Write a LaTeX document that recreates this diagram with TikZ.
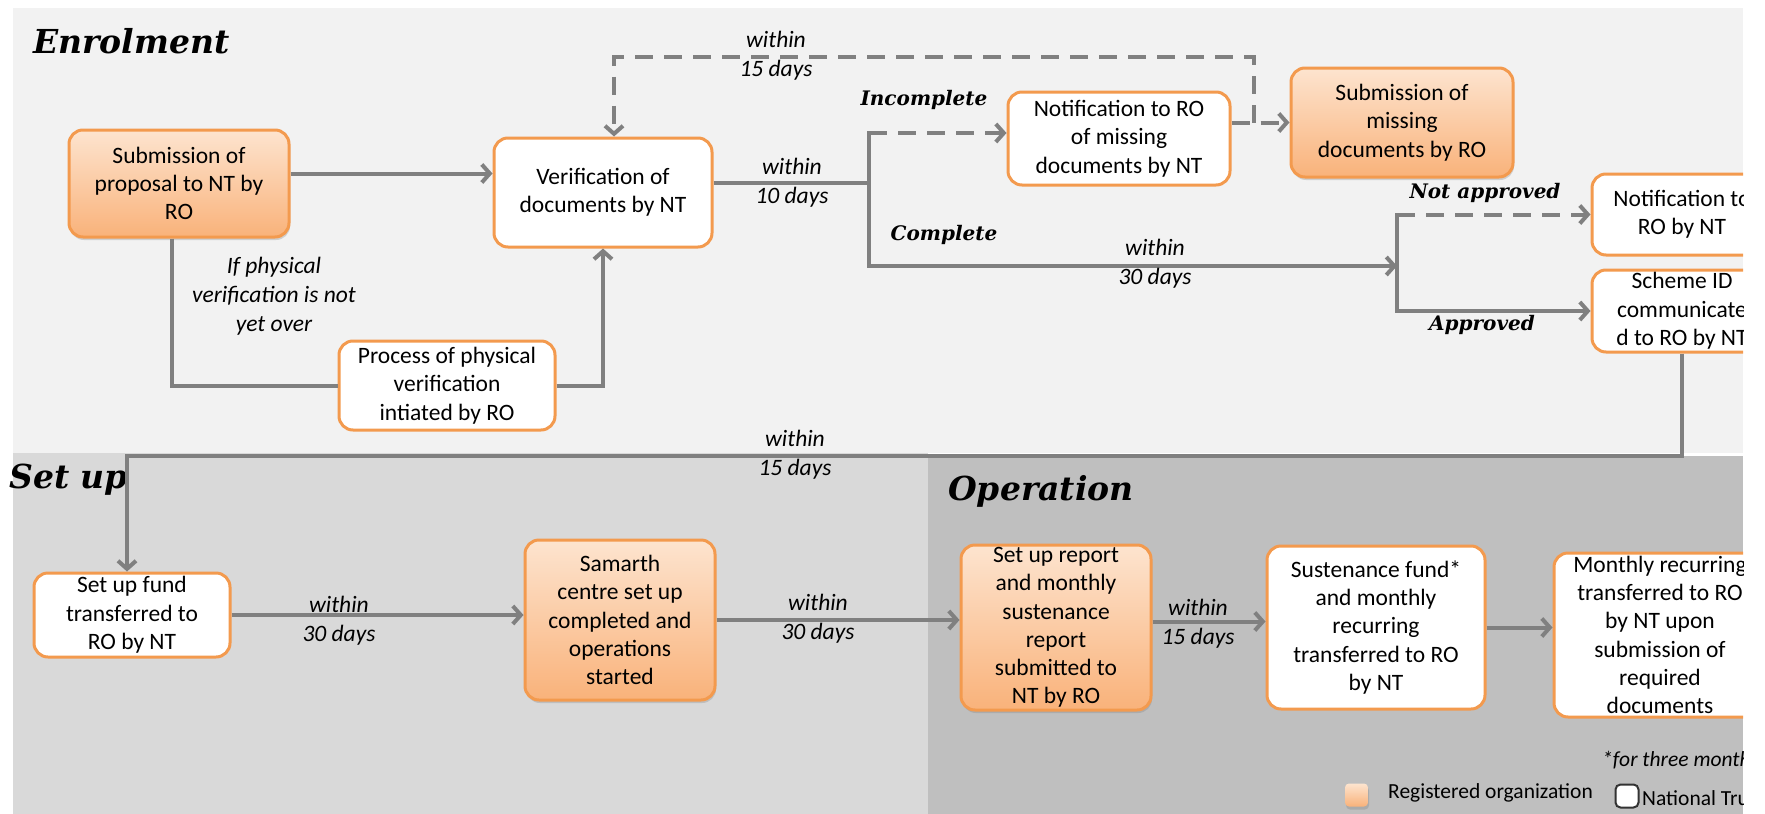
\documentclass[tikz,border=0pt]{standalone}
\usepackage{fontspec}
\setmainfont{Carlito}
\newfontfamily\headfont{DejaVu Serif}
\usetikzlibrary{arrows.meta,shadows,positioning}

\definecolor{panelA}{HTML}{F2F2F2}
\definecolor{panelB}{HTML}{D9D9D9}
\definecolor{panelC}{HTML}{BFBFBF}
\definecolor{flowgrey}{HTML}{808080}
\definecolor{boxline}{HTML}{F39A4E}
\definecolor{rotop}{HTML}{FDE4CF}
\definecolor{robot}{HTML}{F9B27A}

\tikzset{
  >={Straight Barb[length=8pt,width=18pt]},
  stage/.style={draw=boxline, line width=3pt, rounded corners=14pt, align=center,
    inner sep=0pt, font=\fontsize{23.5}{28.3}\selectfont},
  robox/.style={stage, top color=rotop, bottom color=robot,
    drop shadow={shadow xshift=1pt, shadow yshift=-3pt, opacity=0.3}},
  ntbox/.style={stage, fill=white},
  flow/.style={draw=flowgrey, line width=4pt},
  gap/.style={flow, dash pattern=on 18pt off 11pt},
  days/.style={font=\fontsize{23.5}{29}\selectfont\itshape, align=center, inner sep=0pt},
  phase/.style={font=\headfont\bfseries\itshape\fontsize{33}{40}\selectfont,
    anchor=base west, inner sep=0pt},
  branch/.style={font=\headfont\bfseries\itshape\fontsize{20}{24}\selectfont, inner sep=0pt},
  keytext/.style={font=\fontsize{21.5}{24}\selectfont, anchor=west, inner sep=0pt},
}

\begin{document}
\begin{tikzpicture}[x=1pt,y=-1pt]

  \useasboundingbox (0,0) rectangle (1765,814);
  \clip (0,0) rectangle (1743,814);

  %% panels
  \fill[panelA] (13,8) rectangle (1743,453);
  \fill[panelB] (13,453) rectangle (928,814);
  \fill[panelC] (928,456) rectangle (1743,814);

  \node[phase] (enrol) at (33,53) {Enrolment};
  \node[phase] (setup) at (9,488) {Set up};
  \node[phase] (oper) at (948,500) {Operation};

  %% enrolment stages
  \node[robox, minimum width=220pt, minimum height=107pt] (subm) at (179,183.5)
    {Submission of\\proposal to NT by\\RO};
  \node[ntbox, minimum width=218pt, minimum height=109pt] (verif) at (603,192.5)
    {Verification of\\documents by NT};
  \node[ntbox, minimum width=216pt, minimum height=89pt] (proc) at (447,385.5)
    {Process of physical\\verification\\intiated by RO};
  \node[ntbox, minimum width=222pt, minimum height=93pt] (notif) at (1119,138.5)
    {Notification to RO\\of missing\\documents by NT};
  \node[robox, minimum width=222pt, minimum height=109pt] (missing) at (1402,122.5)
    {Submission of\\missing\\documents by RO};
  \node[ntbox, minimum width=180pt, minimum height=81pt] (notifB) at (1682,214.5)
    {Notification to\\RO by NT};
  \node[ntbox, minimum width=180pt, minimum height=82pt] (scheme) at (1682,311)
    {Scheme ID\\communicate\\d to RO by NT};

  %% set up and operation stages
  \node[ntbox, minimum width=196pt, minimum height=84pt] (fund) at (132,615)
    {Set up fund\\transferred to\\RO by NT};
  \node[robox, minimum width=190pt, minimum height=160pt] (samarth) at (620,620)
    {Samarth\\centre set up\\completed and\\operations\\started};
  \node[robox, minimum width=190pt, minimum height=165pt] (setrep) at (1056,627.5)
    {Set up report\\and monthly\\sustenance\\report\\submitted to\\NT by RO};
  \node[ntbox, minimum width=218pt, minimum height=163pt] (sust) at (1376,627.5)
    {Sustenance fund*\\and monthly\\recurring\\transferred to RO\\by NT};
  \node[ntbox, minimum width=212pt, minimum height=164pt] (monthly) at (1660,635)
    {Monthly recurring\\transferred to RO\\by NT upon\\submission of\\required\\documents};

  %% turning points
  \coordinate (split) at (869,183);
  \coordinate (incmp) at (869,133);
  \coordinate (cmpl) at (869,266);
  \coordinate (decide) at (1397,266);
  \coordinate (loop) at (1254,57);
  \coordinate (drop) at (0,456);

  %% node to node
  \draw[flow,->] ([yshift=10pt]subm.east) -- ([yshift=10pt]subm.east -| verif.west);
  \draw[flow] ([xshift=-7pt]subm.south) |- (proc.west);
  \draw[flow,->] (proc.east) -| (verif.south);

  \draw[flow] (split -| verif.east) -- (split);
  \draw[flow,line cap=rect] (incmp) -- (cmpl);
  \draw[gap,->] (incmp) -- (incmp -| notif.west);
  \draw[gap,->] (missing.west -| notif.east) -- (missing.west);
  \draw[gap,->] (loop |- missing.west) -- (loop) -| ([xshift=11pt]verif.north);
  \draw[flow,->] (cmpl) -- (decide);

  \draw[flow,line cap=rect] (notifB.west -| decide) -- (scheme.west -| decide);
  \draw[gap,->] (notifB.west -| decide) -- (notifB.west);
  \draw[flow,->] (scheme.west -| decide) -- (scheme.west);

  \draw[flow,->] (scheme.south) -- (scheme.south |- drop) -| ([xshift=-5pt]fund.north);
  \draw[flow,->] (fund.east) -- (fund.east -| samarth.west);
  \draw[flow,->] (samarth.east) -- (samarth.east -| setrep.west);
  \draw[flow,->] ([yshift=6pt]setrep.east) -- ([yshift=6pt]setrep.east -| sust.west);
  \draw[flow,->] (sust.east) -- (sust.east -| monthly.west);

  %% labels on the connectors
  \node[days] (ifphys) at (274,296.5) {If physical\\verification is not\\yet over};
  \node[days] (back15) at (776,56) {within\\15 days};
  \node[days] (ver10) at (792,182.5) {within\\10 days};
  \node[days] (appr30) at (1155,264) {within\\30 days};
  \node[days] (fund15) at (795,455) {within\\15 days};
  \node[days] (set30) at (339,620.5) {within\\30 days};
  \node[days] (ops30) at (818,618.5) {within\\30 days};
  \node[days] (rep15) at (1198,623.5) {within\\15 days};

  \node[branch] (lincmp) at (924,100) {Incomplete};
  \node[branch] (lcmpl) at (944,235) {Complete};
  \node[branch] (lnotap) at (1485,193) {Not approved};
  \node[branch] (lappr) at (1482,325) {Approved};

  %% note and key
  \node[keytext, font=\fontsize{21.5}{24}\selectfont\itshape] (note) at (1602,760) {*for three months};
  \node[robox, line width=0pt, draw=none, rounded corners=4pt, minimum size=23pt] (keyro) at (1356.5,795) {};
  \node[keytext] (keyrotxt) at (1388,793) {Registered organization};
  \node[draw=black!80, fill=white, line width=2pt, rounded corners=5pt, minimum size=23pt, inner sep=0pt] (keynt) at (1627,796) {};
  \node[keytext] (keynttxt) at (1642,798) {National Trust};

\end{tikzpicture}
\end{document}
